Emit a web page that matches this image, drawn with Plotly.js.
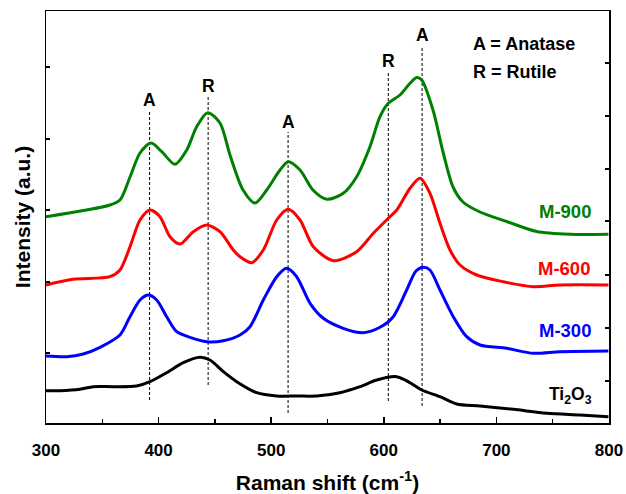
<!DOCTYPE html>
<html>
<head>
<meta charset="utf-8">
<script src="https://cdn.plot.ly/plotly-3.0.1.min.js"></script>
<style>html,body{margin:0;padding:0;background:#fff}#chart{width:626px;height:494px}</style>
</head>
<body>
<div id="chart"></div>
<script>
// Raman shift (cm^-1) and intensity (a.u., stacked) for each sample
const m900X = [300,356.8,365.7,374.6,383.5,393.3,402.8,414.6,425,433.8,443.6,454.5,463.4,475,485.6,496,507.8,515.2,525.6,537.1,549.3,564,575.9,587.7,596.6,604,614.4,623.3,629.2,633.7,643.7,652.6,661.5,670.3,685.4,710.3,735.8,765.5,799.5];
const m900Y = [206.3,218,223,246,270,280,271.3,258.7,273,296.3,310.3,300,268,233,220,233,253,261.3,253,233,223.7,229.7,246.3,276.3,306.3,319.7,328,339.7,345.5,343,313,271,236,221,211,201,191.5,188.7,188.7];

const m600X = [300,324,356.8,365.7,374.6,383.5,392.4,401.2,410.1,419,430.8,442.7,454.5,466.3,472.3,482.7,493,504.9,515.2,525.6,537.4,555.2,575.9,590.7,604,611.5,623.3,632.1,641,649.9,658.8,667.7,682.5,706.1,732.8,756.5,799.5];
const m600Y = [138,143.7,146.3,153,176.3,203,213,206.3,186.3,179,191.3,198,191.3,173,166.3,160.3,173,203,213.7,203,176.3,162.3,171.3,189.7,204.7,213,234.7,244.7,229.7,199.7,173,158,148,141.3,136.3,138,138];

const m300X = [300,318.4,333.1,348,365.7,374.6,383.5,390.9,398.3,407.2,416.1,427.9,442.7,457.5,472.3,481.2,493,504.9,513.7,522.6,534.5,546.3,564,581.8,596.6,608.4,620.3,628.6,635.1,641,649.9,661.7,673.6,685.4,709.1,732.8,756.5,799.5];
const m300Y = [67,66.3,69,75.7,88,106.3,123,128,123,106.3,91.3,85.7,81.3,82.3,88,96.3,123,146.3,154.7,146.3,119.7,104.7,94.7,90.3,95.7,106.3,133,152,155.7,153,133,106.3,86.3,78,74.7,69.7,71.3,72];

const ti2o3X = [300,312.4,330.2,342,359.8,380.5,392.4,407.2,421.9,436.8,445.6,457.5,469.4,487.1,504.9,522.6,540.4,561.1,578.9,593.7,611.4,623.3,633.7,649.9,664.7,685.4,715,744.6,774.2,799.5];
const ti2o3Y = [32.3,32.3,33.7,36.3,36.3,37,41.3,50.3,60.3,65.7,63,51.3,41.3,30.3,27,27,27,30.3,36.3,43,46.3,40.3,33,26.3,19,17,13.7,9.7,8,6.3];

// Peak assignments (A = anatase, R = rutile)
const peakPos = [392,444,515,604,634];
const peakLabels = ['A','R','A','R','A'];
const peakLineTop = [313,326,291,350,377];
const peakLineBottom = [23,38,10,22,17];
const peakLabelY = [323,337,301,362,388];

const seriesNames = ['M-900','M-600','M-300','Ti<sub>2</sub>O<sub>3</sub>'];
const seriesColors = ['#008000','#ff0000','#0000ff','#000000'];
const seriesLabelX = [761,760,760.5,766];
const seriesLabelY = [212,155,93,28];

const xTicks = [300,400,500,600,700,800];
const yLeftTicks = [70,141,213,284,356];
const yRightTicks = [42,95,148,202,254,307,360];

const FONT = 'Liberation Sans, Arial, Helvetica, sans-serif';

const allX = [m900X,m600X,m300X,ti2o3X];
const allY = [m900Y,m600Y,m300Y,ti2o3Y];
const traces = allX.map((xs,i)=>({
  type:'scatter', mode:'lines', x:xs, y:allY[i],
  line:{color:seriesColors[i], width:3, shape:'spline', smoothing:0.8},
  yaxis: i===3 ? 'y2' : 'y',
  hoverinfo:'skip', showlegend:false
}));

const shapes = peakPos.map((p,i)=>({
  type:'line', xref:'x', yref:'y', x0:p, x1:p, y0:peakLineBottom[i], y1:peakLineTop[i],
  line:{color:'#000', width:1, dash:'3px,2px'}, layer:'below'
}));

const annotations = [];
peakPos.forEach((p,i)=>annotations.push({
  x:p, y:peakLabelY[i], xref:'x', yref:'y', text:'<b>'+peakLabels[i]+'</b>',
  showarrow:false, xanchor:'center', yanchor:'middle',
  font:{family:FONT, size:17.5, color:'#000'}
}));
seriesNames.forEach((n,i)=>annotations.push({
  x:seriesLabelX[i], y:seriesLabelY[i], xref:'x', yref:'y', text:'<b>'+n+'</b>',
  showarrow:false, xanchor:'center', yanchor:'middle',
  font:{family:FONT, size: i===3 ? 17.5 : 18.5, color:seriesColors[i]}
}));
annotations.push({x:677.5, y:379, xref:'x', yref:'y', text:'<b>A = Anatase</b>', showarrow:false,
  xanchor:'left', yanchor:'middle', font:{family:FONT, size:18, color:'#000'}});
annotations.push({x:677.5, y:351, xref:'x', yref:'y', text:'<b>R = Rutile</b>', showarrow:false,
  xanchor:'left', yanchor:'middle', font:{family:FONT, size:18, color:'#000'}});

const layout = {
  width:626, height:494,
  margin:{l:46, r:17, t:11, b:71},
  paper_bgcolor:'#fff', plot_bgcolor:'#fff',
  showlegend:false,
  font:{family:FONT, color:'#000'},
  xaxis:{
    range:[300,800], showgrid:false, zeroline:false,
    showline:true, linecolor:'#000', linewidth:1.5, mirror:true,
    ticks:'inside', ticklen:6, tickwidth:1.5, tickcolor:'#000',
    tickvals:xTicks, ticktext:xTicks.map(v=>'<b>'+v+'</b>'),
    tickfont:{family:FONT, size:17, color:'#000'},
    ticklabelstandoff:11,
    minor:{ticks:'inside', dtick:50, tick0:300, ticklen:4, tickwidth:1.5, tickcolor:'#000', showgrid:false},
    title:{text:'<b>Raman shift (cm<sup>-1</sup>)</b>', font:{family:FONT, size:21, color:'#000'}, standoff:16}
  },
  yaxis:{
    range:[0,412], showgrid:false, zeroline:false,
    showline:true, linecolor:'#000', linewidth:1.5,
    ticks:'inside', ticklen:4, tickwidth:1.5, tickcolor:'#000',
    tickvals:yLeftTicks, showticklabels:false,
    title:{text:'<b>Intensity (a.u.)</b>', font:{family:FONT, size:21, color:'#000'}, standoff:8}
  },
  yaxis2:{
    range:[0,412], overlaying:'y', side:'right', showgrid:false, zeroline:false,
    showline:true, linecolor:'#000', linewidth:1.5,
    ticks:'inside', ticklen:4, tickwidth:1.5, tickcolor:'#000',
    tickvals:yRightTicks, showticklabels:false
  },
  shapes:shapes,
  annotations:annotations
};

Plotly.newPlot('chart', traces, layout, {displayModeBar:false, staticPlot:true});
</script>
</body>
</html>
